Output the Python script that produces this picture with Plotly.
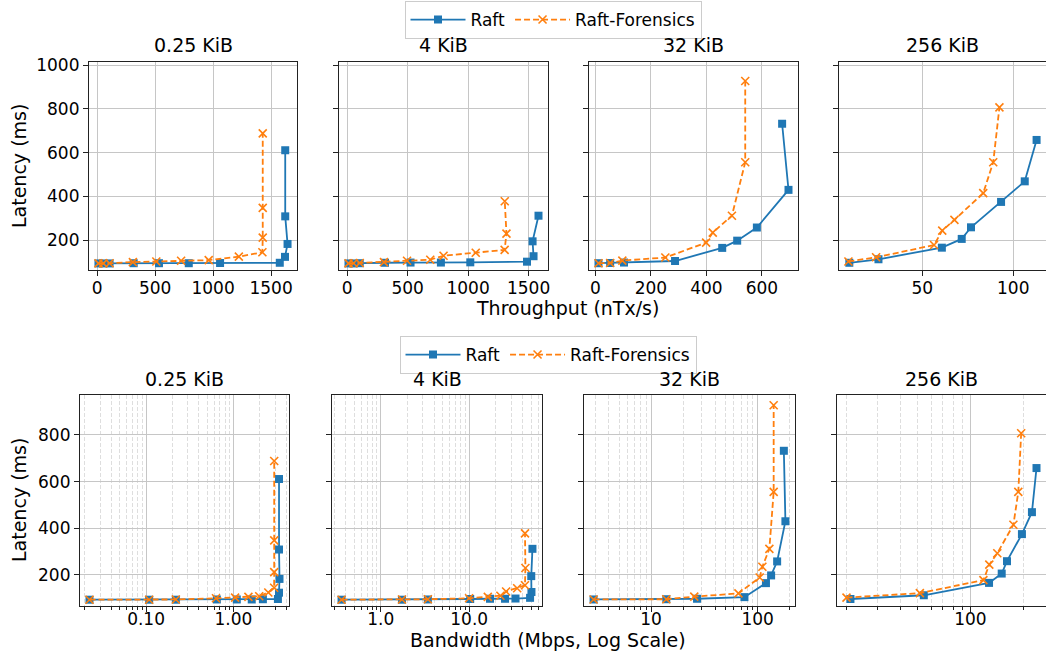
import math
import plotly.graph_objects as go

# ---------------- data ----------------
size_labels = ["0.25 KiB", "4 KiB", "32 KiB", "256 KiB"]
size_kib = [0.25, 4, 32, 256]

raft_tput_025 = [11, 53, 107, 315, 533, 790, 1060, 1575, 1620, 1642, 1622, 1622]
raft_lat_025 = [94, 94, 94, 95, 95, 95, 96, 97, 124, 183, 309, 611]
fx_tput_025 = [11, 53, 107, 308, 510, 724, 962, 1222, 1425, 1428, 1428, 1428]
fx_lat_025 = [94, 94, 95, 100, 103, 106, 109, 125, 145, 212, 348, 688]

raft_tput_4 = [11, 53, 104, 313, 524, 775, 1018, 1487, 1541, 1533, 1582]
raft_lat_4 = [94, 94, 95, 97, 98, 98, 99, 102, 127, 195, 312]
fx_tput_4 = [11, 53, 104, 304, 495, 687, 797, 1063, 1302, 1317, 1303]
fx_lat_4 = [94, 95, 96, 100, 106, 111, 129, 143, 156, 230, 378]

raft_tput_32 = [11, 53, 103, 287, 457, 511, 582, 696, 673]
raft_lat_32 = [95, 96, 98, 105, 165, 198, 258, 430, 732]
fx_tput_32 = [11, 53, 97, 252, 399, 423, 492, 540, 540]
fx_lat_32 = [95, 96, 107, 121, 189, 235, 312, 556, 927]

raft_tput_256 = [10, 26, 60.8, 71.7, 76.8, 93.3, 106.3, 112.8]
raft_lat_256 = [97, 113, 166, 206, 259, 375, 469, 658]
fx_tput_256 = [9.5, 24.7, 56.5, 61, 67.7, 83.5, 89, 92.4]
fx_lat_256 = [103, 122, 178, 244, 293, 415, 556, 807]

raft_tput = [raft_tput_025, raft_tput_4, raft_tput_32, raft_tput_256]
raft_lat = [raft_lat_025, raft_lat_4, raft_lat_32, raft_lat_256]
fx_tput = [fx_tput_025, fx_tput_4, fx_tput_32, fx_tput_256]
fx_lat = [fx_lat_025, fx_lat_4, fx_lat_32, fx_lat_256]

top_xticks = [[0, 500, 1000, 1500], [0, 500, 1000, 1500], [0, 200, 400, 600], [50, 100]]
bot_xtickvals = [[0.1, 1.0], [1.0, 10.0], [10, 100], [100]]
bot_xticktext = [["0.10", "1.00"], ["1.0", "10.0"], ["10", "100"], ["100"]]
top_yticks = [200, 400, 600, 800, 1000]
bot_yticks = [200, 400, 600, 800]

# ---------------- layout helpers ----------------
W, H = 1046, 657
FONT = "DejaVu Sans"
BLUE = "#1f77b4"
ORANGE = "#ff7f0e"

top_x_px = [(89, 297), (339, 548), (589, 798), (839, 1046)]
bot_x_px = [(80, 289), (332, 542), (584, 795), (837, 1046)]
top_y_px = (62, 270)
bot_y_px = (395, 606)


def xd(a, b):
    return [a / W, min(b / W, 1.0)]


def yd(t, b):
    return [1 - b / H, 1 - t / H]


def to_mbps(tput, kib):
    return [v * kib * 1024 * 8 / 1e6 for v in tput]


def lin_range(vals):
    lo, hi = min(vals), max(vals)
    m = 0.05 * (hi - lo)
    return [lo - m, hi + m]


def log_range(vals):
    lo, hi = math.log10(min(vals)), math.log10(max(vals))
    m = 0.05 * (hi - lo)
    return [lo - m, hi + m]


def minor_vals(rng):
    out = []
    for k in range(int(math.floor(rng[0])) - 1, int(math.ceil(rng[1])) + 1):
        for d in range(2, 10):
            v = d * 10 ** k
            if rng[0] <= math.log10(v) <= rng[1]:
                out.append(v)
    return out


axis_common = dict(
    showline=True, mirror=True, linecolor="#222222", linewidth=1.2,
    ticks="outside", ticklen=5, tickwidth=1.2, tickcolor="#222222",
    showgrid=True, gridcolor="#c6c6c6", gridwidth=1.1, zeroline=False,
    tickfont=dict(family=FONT, size=17, color="black"), automargin=False,
)

fig = go.Figure()
layout = {}
annotations = []

for i in range(4):
    kib = size_kib[i]
    # ---- top row: throughput ----
    n = i + 1
    xa, ya = f"x{n}", f"y{n}"
    fig.add_trace(go.Scatter(
        x=raft_tput[i], y=raft_lat[i], xaxis=xa, yaxis=ya, name="Raft",
        mode="lines+markers", legend="legend", showlegend=(i == 0),
        line=dict(color=BLUE, width=1.8),
        marker=dict(symbol="square", size=8, color=BLUE)))
    fig.add_trace(go.Scatter(
        x=fx_tput[i], y=fx_lat[i], xaxis=xa, yaxis=ya, name="Raft-Forensics",
        mode="lines+markers", legend="legend", showlegend=(i == 0),
        line=dict(color=ORANGE, width=1.8, dash="6px,3px"),
        marker=dict(symbol="x-thin", size=8, color=ORANGE,
                    line=dict(color=ORANGE, width=1.6))))
    layout[f"xaxis{n}" if n > 1 else "xaxis"] = dict(
        axis_common, domain=xd(*top_x_px[i]), anchor=ya,
        range=lin_range(raft_tput[i] + fx_tput[i]),
        tickmode="array", tickvals=top_xticks[i], ticklabelstandoff=-3)
    layout[f"yaxis{n}" if n > 1 else "yaxis"] = dict(
        axis_common, domain=yd(*top_y_px), anchor=xa, range=[64, 1014],
        tickmode="array", tickvals=top_yticks, showticklabels=(i == 0))
    annotations.append(dict(
        text=size_labels[i], xref="paper", yref="paper",
        x=sum(top_x_px[i]) / 2 / W, y=1 - 45 / H, showarrow=False,
        xanchor="center", yanchor="middle", font=dict(family=FONT, size=19, color="black")))

    # ---- bottom row: bandwidth (log) ----
    n = i + 5
    xa, ya = f"x{n}", f"y{n}"
    rb = to_mbps(raft_tput[i], kib)
    fb = to_mbps(fx_tput[i], kib)
    fig.add_trace(go.Scatter(
        x=rb, y=raft_lat[i], xaxis=xa, yaxis=ya, name="Raft",
        mode="lines+markers", legend="legend2", showlegend=(i == 0),
        line=dict(color=BLUE, width=1.8),
        marker=dict(symbol="square", size=8, color=BLUE)))
    fig.add_trace(go.Scatter(
        x=fb, y=fx_lat[i], xaxis=xa, yaxis=ya, name="Raft-Forensics",
        mode="lines+markers", legend="legend2", showlegend=(i == 0),
        line=dict(color=ORANGE, width=1.8, dash="6px,3px"),
        marker=dict(symbol="x-thin", size=8, color=ORANGE,
                    line=dict(color=ORANGE, width=1.6))))
    rng = log_range(rb + fb)
    layout[f"xaxis{n}"] = dict(
        axis_common, type="log", domain=xd(*bot_x_px[i]), anchor=ya, range=rng,
        tickmode="array", tickvals=bot_xtickvals[i], ticktext=bot_xticktext[i],
        ticklabelstandoff=-8,
        minor=dict(tickmode="array", tickvals=minor_vals(rng), ticks="outside",
                   ticklen=3, tickwidth=0.8, tickcolor="#222222", showgrid=True,
                   gridcolor="#dedede", griddash="4px,2px", gridwidth=1))
    layout[f"yaxis{n}"] = dict(
        axis_common, domain=yd(*bot_y_px), anchor=xa, range=[67, 971],
        tickmode="array", tickvals=bot_yticks, showticklabels=(i == 0))
    annotations.append(dict(
        text=size_labels[i], xref="paper", yref="paper",
        x=sum(bot_x_px[i]) / 2 / W, y=1 - 379 / H, showarrow=False,
        xanchor="center", yanchor="middle", font=dict(family=FONT, size=19, color="black")))

# axis titles
annotations += [
    dict(text="Throughput (nTx/s)", xref="paper", yref="paper", x=567 / W, y=1 - 308 / H,
         showarrow=False, xanchor="center", yanchor="middle",
         font=dict(family=FONT, size=19, color="black")),
    dict(text="Bandwidth (Mbps, Log Scale)", xref="paper", yref="paper", x=548 / W, y=1 - 640 / H,
         showarrow=False, xanchor="center", yanchor="middle",
         font=dict(family=FONT, size=19, color="black")),
    dict(text="Latency (ms)", xref="paper", yref="paper", x=19 / W, y=1 - 166 / H,
         showarrow=False, xanchor="center", yanchor="middle", textangle=-90,
         font=dict(family=FONT, size=19, color="black")),
    dict(text="Latency (ms)", xref="paper", yref="paper", x=19 / W, y=1 - 500 / H,
         showarrow=False, xanchor="center", yanchor="middle", textangle=-90,
         font=dict(family=FONT, size=19, color="black")),
]

legend_common = dict(
    orientation="h", xanchor="center", yanchor="middle",
    bgcolor="white", bordercolor="#cccccc", borderwidth=1,
    font=dict(family=FONT, size=17, color="black"), itemwidth=55,
)

fig.update_layout(
    width=W, height=H,
    margin=dict(l=0, r=0, t=0, b=0),
    paper_bgcolor="white", plot_bgcolor="white",
    font=dict(family=FONT, color="black"),
    annotations=annotations,
    legend=dict(legend_common, x=553 / W, y=1 - 20 / H),
    legend2=dict(legend_common, x=548 / W, y=1 - 355 / H),
    **layout,
)

fig.write_html("out.html", config={"displayModeBar": False},
               post_script="document.body.style.margin='0';document.body.style.overflow='hidden';")
